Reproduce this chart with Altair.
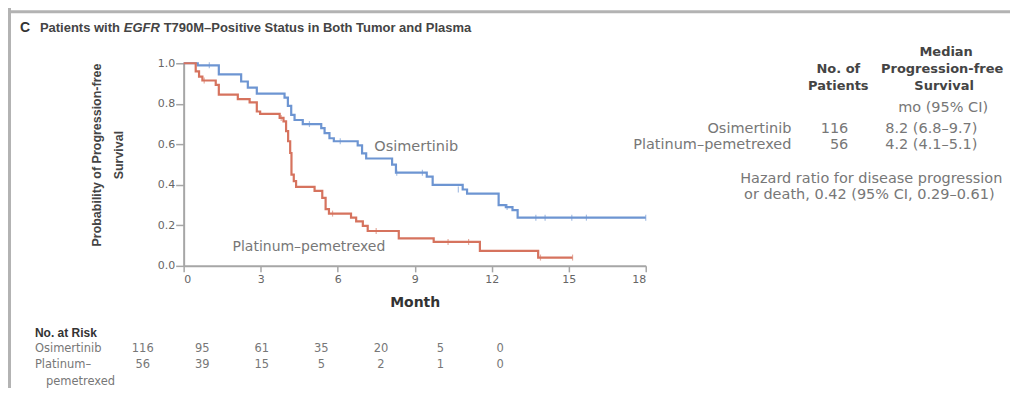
import altair as alt
import pandas as pd

FONT = "Liberation Sans"
WIDE = "DejaVu Sans"

# ---- Kaplan-Meier step data (month, survival probability) ----
osi_month = [0, 0.55, 1.37, 2.24, 2.5, 2.85, 3.93, 4.06, 4.19, 4.32, 4.64, 5.36, 5.49, 5.68,
             5.85, 6.78, 6.95, 7.11, 8.12, 8.27, 9.47, 9.70, 10.87, 11.04, 12.27, 12.55,
             12.81, 13.01, 18.0]
osi_surv = [1.0, 0.99, 0.945, 0.91, 0.88, 0.85, 0.83, 0.79, 0.745, 0.72, 0.70, 0.68, 0.655, 0.63,
            0.615, 0.595, 0.555, 0.53, 0.50, 0.46, 0.44, 0.40, 0.377, 0.357, 0.30, 0.29,
            0.275, 0.238, 0.238]

plat_month = [0, 0.47, 0.60, 0.73, 1.25, 1.37, 2.11, 2.57, 2.85, 2.98, 3.74, 3.89, 3.99, 4.07,
              4.15, 4.20, 4.29, 4.38, 5.10, 5.40, 5.53, 5.66, 6.52, 6.72, 6.98, 7.17, 8.38,
              9.74, 11.54, 13.81, 15.15]
plat_surv = [1.0, 0.96, 0.934, 0.915, 0.893, 0.845, 0.823, 0.807, 0.762, 0.75, 0.73, 0.713, 0.665,
             0.615, 0.557, 0.45, 0.418, 0.39, 0.37, 0.336, 0.28, 0.258, 0.238, 0.22, 0.197, 0.172,
             0.136, 0.118, 0.074, 0.041, 0.041]

# censoring marks
osi_cens_month = [1.0, 4.9, 6.1, 8.3, 9.3, 10.7, 12.6, 13.72, 14.08, 15.12, 15.69, 18.0]
osi_cens_surv = [0.99, 0.70, 0.615, 0.46, 0.46, 0.377, 0.29, 0.238, 0.238, 0.238, 0.238, 0.238]
plat_cens_month = [0.8, 3.8, 5.8, 7.5, 10.3, 11.1, 13.9, 15.15]
plat_cens_surv = [0.915, 0.73, 0.258, 0.172, 0.118, 0.118, 0.041, 0.041]

# ---- numbers at risk ----
risk_months = [0, 3, 6, 9, 12, 15, 18]
risk_osi = [116, 95, 61, 35, 20, 5, 0]
risk_plat = [56, 39, 15, 5, 2, 1, 0]

# ---- texts ----
groups = ["Osimertinib", "Platinum\u2013pemetrexed"]
n_patients = ["116", "56"]
median_pfs = ["8.2 (6.8\u20139.7)", "4.2 (4.1\u20135.1)"]
hazard_lines = ["Hazard ratio for disease progression", "or death, 0.42 (95% CI, 0.29\u20130.61)"]

BLUE = "#6d95d2"
RED = "#d6735e"
GRAY_AX = "#a6a6a6"

W, H = 463, 203

osi_df = pd.DataFrame({"t": osi_month, "s": osi_surv})
plat_df = pd.DataFrame({"t": plat_month, "s": plat_surv})
osi_c = pd.DataFrame({"t": osi_cens_month, "s": osi_cens_surv})
plat_c = pd.DataFrame({"t": plat_cens_month, "s": plat_cens_surv})

xs = alt.Scale(domain=[0, 18], nice=False)
ys = alt.Scale(domain=[0, 1], nice=False)

xaxis = alt.Axis(values=risk_months, title="Month", domainColor=GRAY_AX, domainWidth=2,
                 tickColor=GRAY_AX, tickWidth=1.5, tickSize=6, labelColor="#666",
                 labelFontSize=11, labelFont=WIDE, labelPadding=2, grid=False,
                 titleFont=WIDE, titleFontSize=14, titleFontWeight="bold", titleColor="#333",
                 titlePadding=11)
yaxis = alt.Axis(values=[0, 0.2, 0.4, 0.6, 0.8, 1.0], format=".1f", title=None,
                 domainColor=GRAY_AX, domainWidth=2, tickColor=GRAY_AX, tickWidth=1.5,
                 tickSize=8, labelColor="#666", labelFontSize=11, labelFont=WIDE,
                 labelPadding=1, grid=False)

osi_line = alt.Chart(osi_df).mark_line(interpolate="step-after", color=BLUE, strokeWidth=2.2).encode(
    x=alt.X("t:Q", scale=xs, axis=xaxis), y=alt.Y("s:Q", scale=ys, axis=yaxis))
plat_line = alt.Chart(plat_df).mark_line(interpolate="step-after", color=RED, strokeWidth=2.2).encode(
    x=alt.X("t:Q", scale=xs), y=alt.Y("s:Q", scale=ys))
osi_tick = alt.Chart(osi_c).mark_tick(orient="vertical", color=BLUE, size=6, thickness=1.2,
                                      opacity=0.6).encode(
    x=alt.X("t:Q", scale=xs), y=alt.Y("s:Q", scale=ys))
plat_tick = alt.Chart(plat_c).mark_tick(orient="vertical", color=RED, size=6, thickness=1.2,
                                        opacity=0.6).encode(
    x=alt.X("t:Q", scale=xs), y=alt.Y("s:Q", scale=ys))

plot = alt.layer(osi_line, plat_line, osi_tick, plat_tick)

# at-risk table on its own x scale
risk_df = pd.DataFrame({"m": risk_months * 2,
                        "n": [str(v) for v in risk_osi] + [str(v) for v in risk_plat],
                        "row": ["o"] * 7 + ["p"] * 7})
risk_scale = alt.Scale(domain=[0, 18], range=[-41, 317], nice=False)
risk_o = alt.Chart(risk_df).transform_filter(alt.datum.row == "o").mark_text(
    font=WIDE, fontSize=11.5, color="#777", baseline="middle").encode(
    x=alt.X("m:Q", scale=risk_scale, axis=None), y=alt.value(286), text="n:N")
risk_p = alt.Chart(risk_df).transform_filter(alt.datum.row == "p").mark_text(
    font=WIDE, fontSize=11.5, color="#777", baseline="middle").encode(
    x=alt.X("m:Q", scale=risk_scale, axis=None), y=alt.value(302), text="n:N")
risk = alt.layer(risk_o, risk_p)

one = pd.DataFrame({"a": [0]})


def label(text, x, y, size=12, weight="normal", color="#666", align="left", angle=0,
          style="normal", font=FONT):
    return alt.Chart(one).mark_text(text=text, align=align, baseline="middle", fontSize=size,
                                    fontWeight=weight, color=color, font=font, angle=angle,
                                    fontStyle=style).encode(x=alt.value(x), y=alt.value(y))


HB = dict(size=13, weight="bold", color="#444", align="center", font=WIDE)
TB = dict(size=14.5, color="#777", font=WIDE)

texts = [
    # title
    label("C", -164, -35, size=14, weight="bold", color="#333"),
    label("Patients with", -144, -35, size=13, weight="bold", color="#444"),
    label("EGFR", -60, -35, size=13, weight="bold", color="#444", style="italic"),
    label("T790M\u2013Positive Status in Both Tumor and Plasma", -20, -35, size=13,
          weight="bold", color="#444"),
    # y axis title
    label("Probability of Progression-free", -87, 92, size=12.5, weight="bold", color="#444",
          align="center", angle=270),
    label("Survival", -65, 92, size=12.5, weight="bold", color="#444", align="center", angle=270),
    # curve labels
    label(groups[0], 191, 84, size=14.5, color="#777", font=WIDE),
    label(groups[1], 49, 184, size=14, color="#777", font=WIDE),
    # right table header
    label("Median", 764, -11, **HB),
    label("No. of", 656, 6, **HB),
    label("Progression-free", 760, 6, **HB),
    label("Patients", 656, 23, **HB),
    label("Survival", 762, 23, **HB),
    label("mo (95% CI)", 761, 45, align="center", **TB),
    label(groups[0], 609, 66, align="right", **TB),
    label(n_patients[0], 666, 66, align="right", **TB),
    label(median_pfs[0], 703, 66, **TB),
    label(groups[1], 609, 82, align="right", **TB),
    label(n_patients[1], 666, 82, align="right", **TB),
    label(median_pfs[1], 703, 82, **TB),
    label(hazard_lines[0], 689, 116, align="center", **TB),
    label(hazard_lines[1], 687, 132, align="center", **TB),
    # at-risk labels
    label("No. at Risk", -149, 270, size=12, weight="bold", color="#333"),
    label(groups[0], -149, 286, size=11.5, color="#777", font=WIDE),
    label("Platinum\u2013", -149, 302, size=11.5, color="#777", font=WIDE),
    label("pemetrexed", -138, 319, size=11.5, color="#777", font=WIDE),
]

frame_v = alt.Chart(one).mark_rule(color="#b3b3b3", strokeWidth=3).encode(
    x=alt.value(-174.5), y=alt.value(-60), y2=alt.value(340))
frame_h = alt.Chart(one).mark_rule(color="#b3b3b3", strokeWidth=3).encode(
    x=alt.value(-176), x2=alt.value(840), y=alt.value(-51.5))

chart = alt.layer(plot, risk, frame_v, frame_h, *texts).resolve_scale(x="independent").properties(
    width=W, height=H,
    autosize=alt.AutoSizeParams(type="none"),
    padding={"left": 176, "top": 55, "right": 365, "bottom": 122},
).configure_view(strokeWidth=0)

chart.save("out.html", embed_options={"renderer": "svg", "actions": False})
